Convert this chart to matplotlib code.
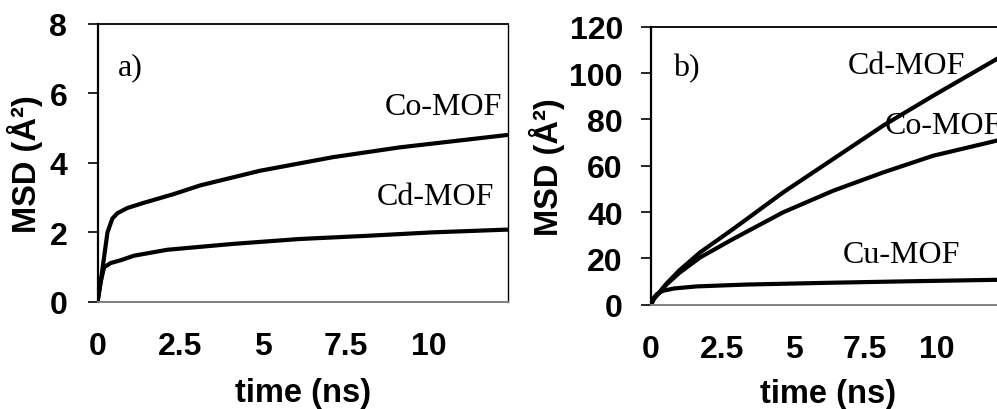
import matplotlib
matplotlib.use("Agg")
import matplotlib.pyplot as plt

# ---- data ----
t_a_co = [0, 0.1, 0.2, 0.3, 0.45, 0.6, 0.9, 1.4, 2.3, 3.1, 4.9, 7.1, 9.1, 12.38]
msd_a_co = [0, 0.6, 1.3, 2.0, 2.4, 2.55, 2.7, 2.85, 3.1, 3.35, 3.77, 4.16, 4.44, 4.8]
t_a_cd = [0, 0.1, 0.2, 0.4, 0.7, 1.1, 2.1, 4.1, 6.1, 8.1, 10.1, 12.38]
msd_a_cd = [0, 0.6, 1.0, 1.12, 1.2, 1.33, 1.5, 1.67, 1.81, 1.9, 2.0, 2.08]

t_b = [0, 0.1, 0.3, 0.55, 1.0, 1.72, 2.88, 4.63, 6.38, 8.13, 9.88, 12.1, 12.38]
msd_b_cd = [0, 2.5, 5.5, 9.2, 14.9, 22.6, 32.7, 48.5, 62.9, 77.3, 90.2, 106, 108]
msd_b_co = [0, 2.5, 5.3, 8.8, 13.8, 20.4, 28.4, 39.9, 49.2, 57.1, 64.3, 70.8, 71.6]
t_b_cu = [0, 0.1, 0.2, 0.42, 0.8, 1.6, 3.35, 6.38, 9.0, 12.38]
msd_b_cu = [0, 3.0, 4.5, 6.0, 7.0, 7.9, 8.7, 9.5, 10.1, 10.8]

xticks = [0, 2.5, 5, 7.5, 10]
xticklabels = ["0", "2.5", "5", "7.5", "10"]
yticks_a = [0, 2, 4, 6, 8]
yticks_b = [0, 20, 40, 60, 80, 100, 120]

W, H = 997, 410
fig = plt.figure(figsize=(W / 100, H / 100), dpi=100)

sans = ["Liberation Sans", "DejaVu Sans"]
serif = ["Liberation Serif", "DejaVu Serif"]


def px_axes(left, top, right, bottom):
    return [left / W, 1 - bottom / H, (right - left) / W, (bottom - top) / H]


def style(ax, yticks, ylim, pad_y, ylab_x, xlab_y):
    ax.set_xlim(0, 12.38)
    ax.set_ylim(*ylim)
    ax.set_xticks(xticks)
    ax.set_xticklabels(xticklabels)
    ax.set_yticks(yticks)
    ax.tick_params(axis="x", length=0, pad=21)
    ax.tick_params(axis="y", length=7.2, width=1.2, pad=pad_y, color="black")
    for lab in ax.get_xticklabels() + ax.get_yticklabels():
        lab.set_fontfamily(sans)
        lab.set_fontweight("bold")
        lab.set_fontsize(23)
    ax.spines["left"].set_linewidth(1.6)
    ax.spines["top"].set_linewidth(1.3)
    ax.spines["right"].set_linewidth(1.0)
    ax.spines["bottom"].set_color("#808080")
    ax.spines["bottom"].set_linewidth(1.4)
    ax.set_xlabel("time (ns)", fontsize=23.5, fontweight="bold", family=sans, va="top")
    ax.set_ylabel("MSD (Å²)", fontsize=23.5, fontweight="bold", family=sans)
    ax.xaxis.set_label_coords(0.5, xlab_y)
    ax.yaxis.set_label_coords(ylab_x, 0.5)


# panel a
ax1 = fig.add_axes(px_axes(97.5, 24.5, 508, 303))
ax1.plot(t_a_co, msd_a_co, color="black", lw=3.0, solid_capstyle="butt")
ax1.plot(t_a_cd, msd_a_cd, color="black", lw=3.0, solid_capstyle="butt")
style(ax1, yticks_a, (0, 8), 14.5, (43 - 97.5) / 410.5, -(378 - 303) / 278.5)

# panel b
right_b = 651 + 12.38 * 28.56
ax2 = fig.add_axes(px_axes(651, 27.7, right_b, 305.7))
ax2.plot(t_b, msd_b_cd, color="black", lw=3.0, solid_capstyle="butt")
ax2.plot(t_b, msd_b_co, color="black", lw=3.0, solid_capstyle="butt")
ax2.plot(t_b_cu, msd_b_cu, color="black", lw=3.0, solid_capstyle="butt")
style(ax2, yticks_b, (0, 120), 13, (565 - 651) / (right_b - 651), -(379 - 305.7) / 278)


def ftext(x, y, s):
    fig.text(x / W, 1 - y / H, s, family=serif, fontsize=23, ha="left", va="baseline")


ftext(118, 75, "a)")
ftext(385, 115, "Co-MOF")
ftext(377, 205, "Cd-MOF")
ftext(673, 76, "b)")
ftext(848, 74, "Cd-MOF")
ftext(885, 134, "Co-MOF")
ftext(843, 263, "Cu-MOF")

fig.savefig("out.png", dpi=100)
